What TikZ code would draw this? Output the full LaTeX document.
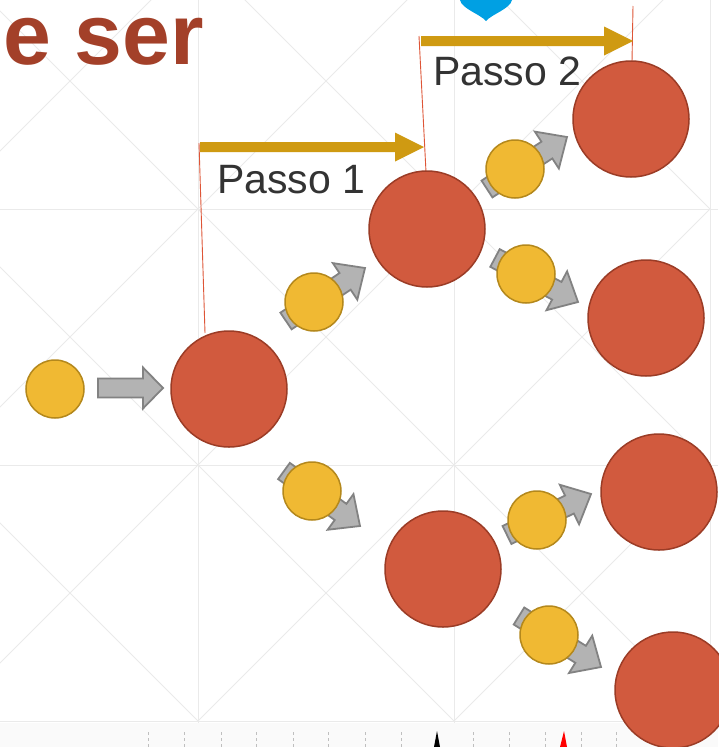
\documentclass[tikz,border=0pt]{standalone}
\usepackage{fontspec}
\setmainfont{Liberation Sans}
\usetikzlibrary{calc}
\definecolor{redc}{RGB}{209,90,62}
\definecolor{redb}{RGB}{155,60,38}
\definecolor{yelc}{RGB}{240,185,51}
\definecolor{yelb}{RGB}{180,136,28}
\definecolor{grayc}{RGB}{179,179,179}
\definecolor{grayb}{RGB}{130,130,130}
\definecolor{gold}{RGB}{207,154,18}
\definecolor{titlec}{RGB}{163,64,41}
\definecolor{linec}{RGB}{222,85,55}
\definecolor{gridc}{RGB}{234,234,234}
\definecolor{pinc}{RGB}{0,160,227}
\definecolor{txtc}{RGB}{51,51,51}
\newcommand\barrow[6]{%
  \coordinate (tmpH) at ($(#3)!#6!(#2)$);
  \draw[#1] ($(#2)!#4!90:(#3)$) -- ($(tmpH)!#4!90:(#3)$) -- ($(tmpH)!#5!90:(#3)$) -- (#3)
    -- ($(tmpH)!#5!-90:(#3)$) -- ($(tmpH)!#4!-90:(#3)$) -- ($(#2)!#4!-90:(#3)$) -- cycle;
}
\tikzset{
  bigc/.style={circle, minimum size=116pt, inner sep=0pt, fill=redc, draw=redb, line width=1.5pt},
  smallc/.style={circle, minimum size=58pt, inner sep=0pt, fill=yelc, draw=yelb, line width=1.5pt},
  grayarrow/.style={fill=grayc, draw=grayb, line width=1.8pt, line join=miter},
  goldarrow/.style={fill=gold, draw=none},
  guide/.style={draw=linec, line width=0.9pt},
  gridline/.style={draw=gridc, line width=0.8pt},
  passo/.style={anchor=base west, inner sep=0pt, text=txtc, font=\fontsize{41}{41}\selectfont},
  tick/.style={draw=gray!50, line width=1pt, dash pattern=on 3pt off 3pt}
}
\begin{document}
\begin{tikzpicture}[x=1pt,y=-1pt]
\useasboundingbox (0,0) rectangle (718,747);
\fill[white] (0,0) rectangle (718,747);
% background grid
\begin{scope}
\clip (0,0) rectangle (718,747);
\fill[black!2] (0,723) rectangle (718,747);
\foreach \x in {-58,198,454,710} \draw[gridline] (\x,-47) -- (\x,723);
\foreach \y in {-47,209,465,721} \draw[gridline] (-58,\y) -- (718,\y);
\foreach \x in {-58,198,454} \foreach \y in {-47,209,465} {
  \draw[gridline] (\x,\y) -- (\x+256,\y+256);
  \draw[gridline] (\x+256,\y) -- (\x,\y+256);
}
% ruler ticks
\foreach \x in {148,184,221,256,293,328,365,401,473,509,545,581,616}
  \draw[tick] (\x,732) -- (\x,747);
\fill[black] (434,747) -- (437,731) -- (440,747) -- cycle;
\fill[red] (560,747) -- (564,731) -- (567,747) -- cycle;
% blue pin bottom
\fill[pinc] (460,0) .. controls (462,9) and (480,14) .. (486,21) .. controls (492,14) and (510,9) .. (512,0) -- cycle;
\end{scope}
% title
\node[anchor=base west, inner sep=0pt, text height=46pt, text depth=1pt, text=titlec, font=\fontsize{86}{86}\selectfont\bfseries] (title) at (3,64) {e ser};
% coordinates
\coordinate (g1a) at (199,143); \coordinate (g1b) at (205,333);
\coordinate (g2a) at (419,36);  \coordinate (g2b) at (426,172);
\coordinate (g3a) at (633,6);   \coordinate (g3b) at (632,62);
\draw[guide] (g1a) -- (g1b);
\draw[guide] (g2a) -- (g2b);
\draw[guide] (g3a) -- (g3b);
% passo arrows
\coordinate (p1s) at (200,147); \coordinate (p1e) at (424,147);
\coordinate (p2s) at (421,41);  \coordinate (p2e) at (633,41);
\barrow{goldarrow}{p1s}{p1e}{5pt}{14.5pt}{29pt}
\barrow{goldarrow}{p2s}{p2e}{5pt}{14.5pt}{29pt}
\node[passo] (t1) at (217,193) {Passo 1};
\node[passo] (t2) at (433,85) {Passo 2};
% gray arrows
\coordinate (m0) at (98,388); \coordinate (m1) at (163,388);
\barrow{grayarrow}{m0}{m1}{9.5pt}{20.5pt}{20pt}
\coordinate (a1s) at (286,321); \coordinate (a1e) at (365,268);
\coordinate (a2s) at (284,471); \coordinate (a2e) at (360,526);
\coordinate (a3s) at (487,189); \coordinate (a3e) at (567,137);
\coordinate (a4s) at (495,258); \coordinate (a4e) at (578,302);
\coordinate (a5s) at (507,535); \coordinate (a5e) at (591,494);
\coordinate (a6s) at (519,616); \coordinate (a6e) at (601,667);
\foreach \i in {1,...,6} {\barrow{grayarrow}{a\i s}{a\i e}{10pt}{22pt}{24pt}}
% circles
\node[smallc] (y0) at (55,389) {};
\node[smallc] (y1) at (314,302) {};
\node[smallc] (y2) at (312,491) {};
\node[smallc] (y3) at (515,169) {};
\node[smallc] (y4) at (526,274) {};
\node[smallc] (y5) at (537,520) {};
\node[smallc] (y6) at (549,635) {};
\node[bigc] (c0) at (229,389) {};
\node[bigc] (c1) at (427,229) {};
\node[bigc] (c2) at (443,569) {};
\node[bigc] (c3) at (631,119) {};
\node[bigc] (c4) at (646,318) {};
\node[bigc] (c5) at (659,492) {};
\node[bigc] (c6) at (673,690) {};
\end{tikzpicture}
\end{document}
